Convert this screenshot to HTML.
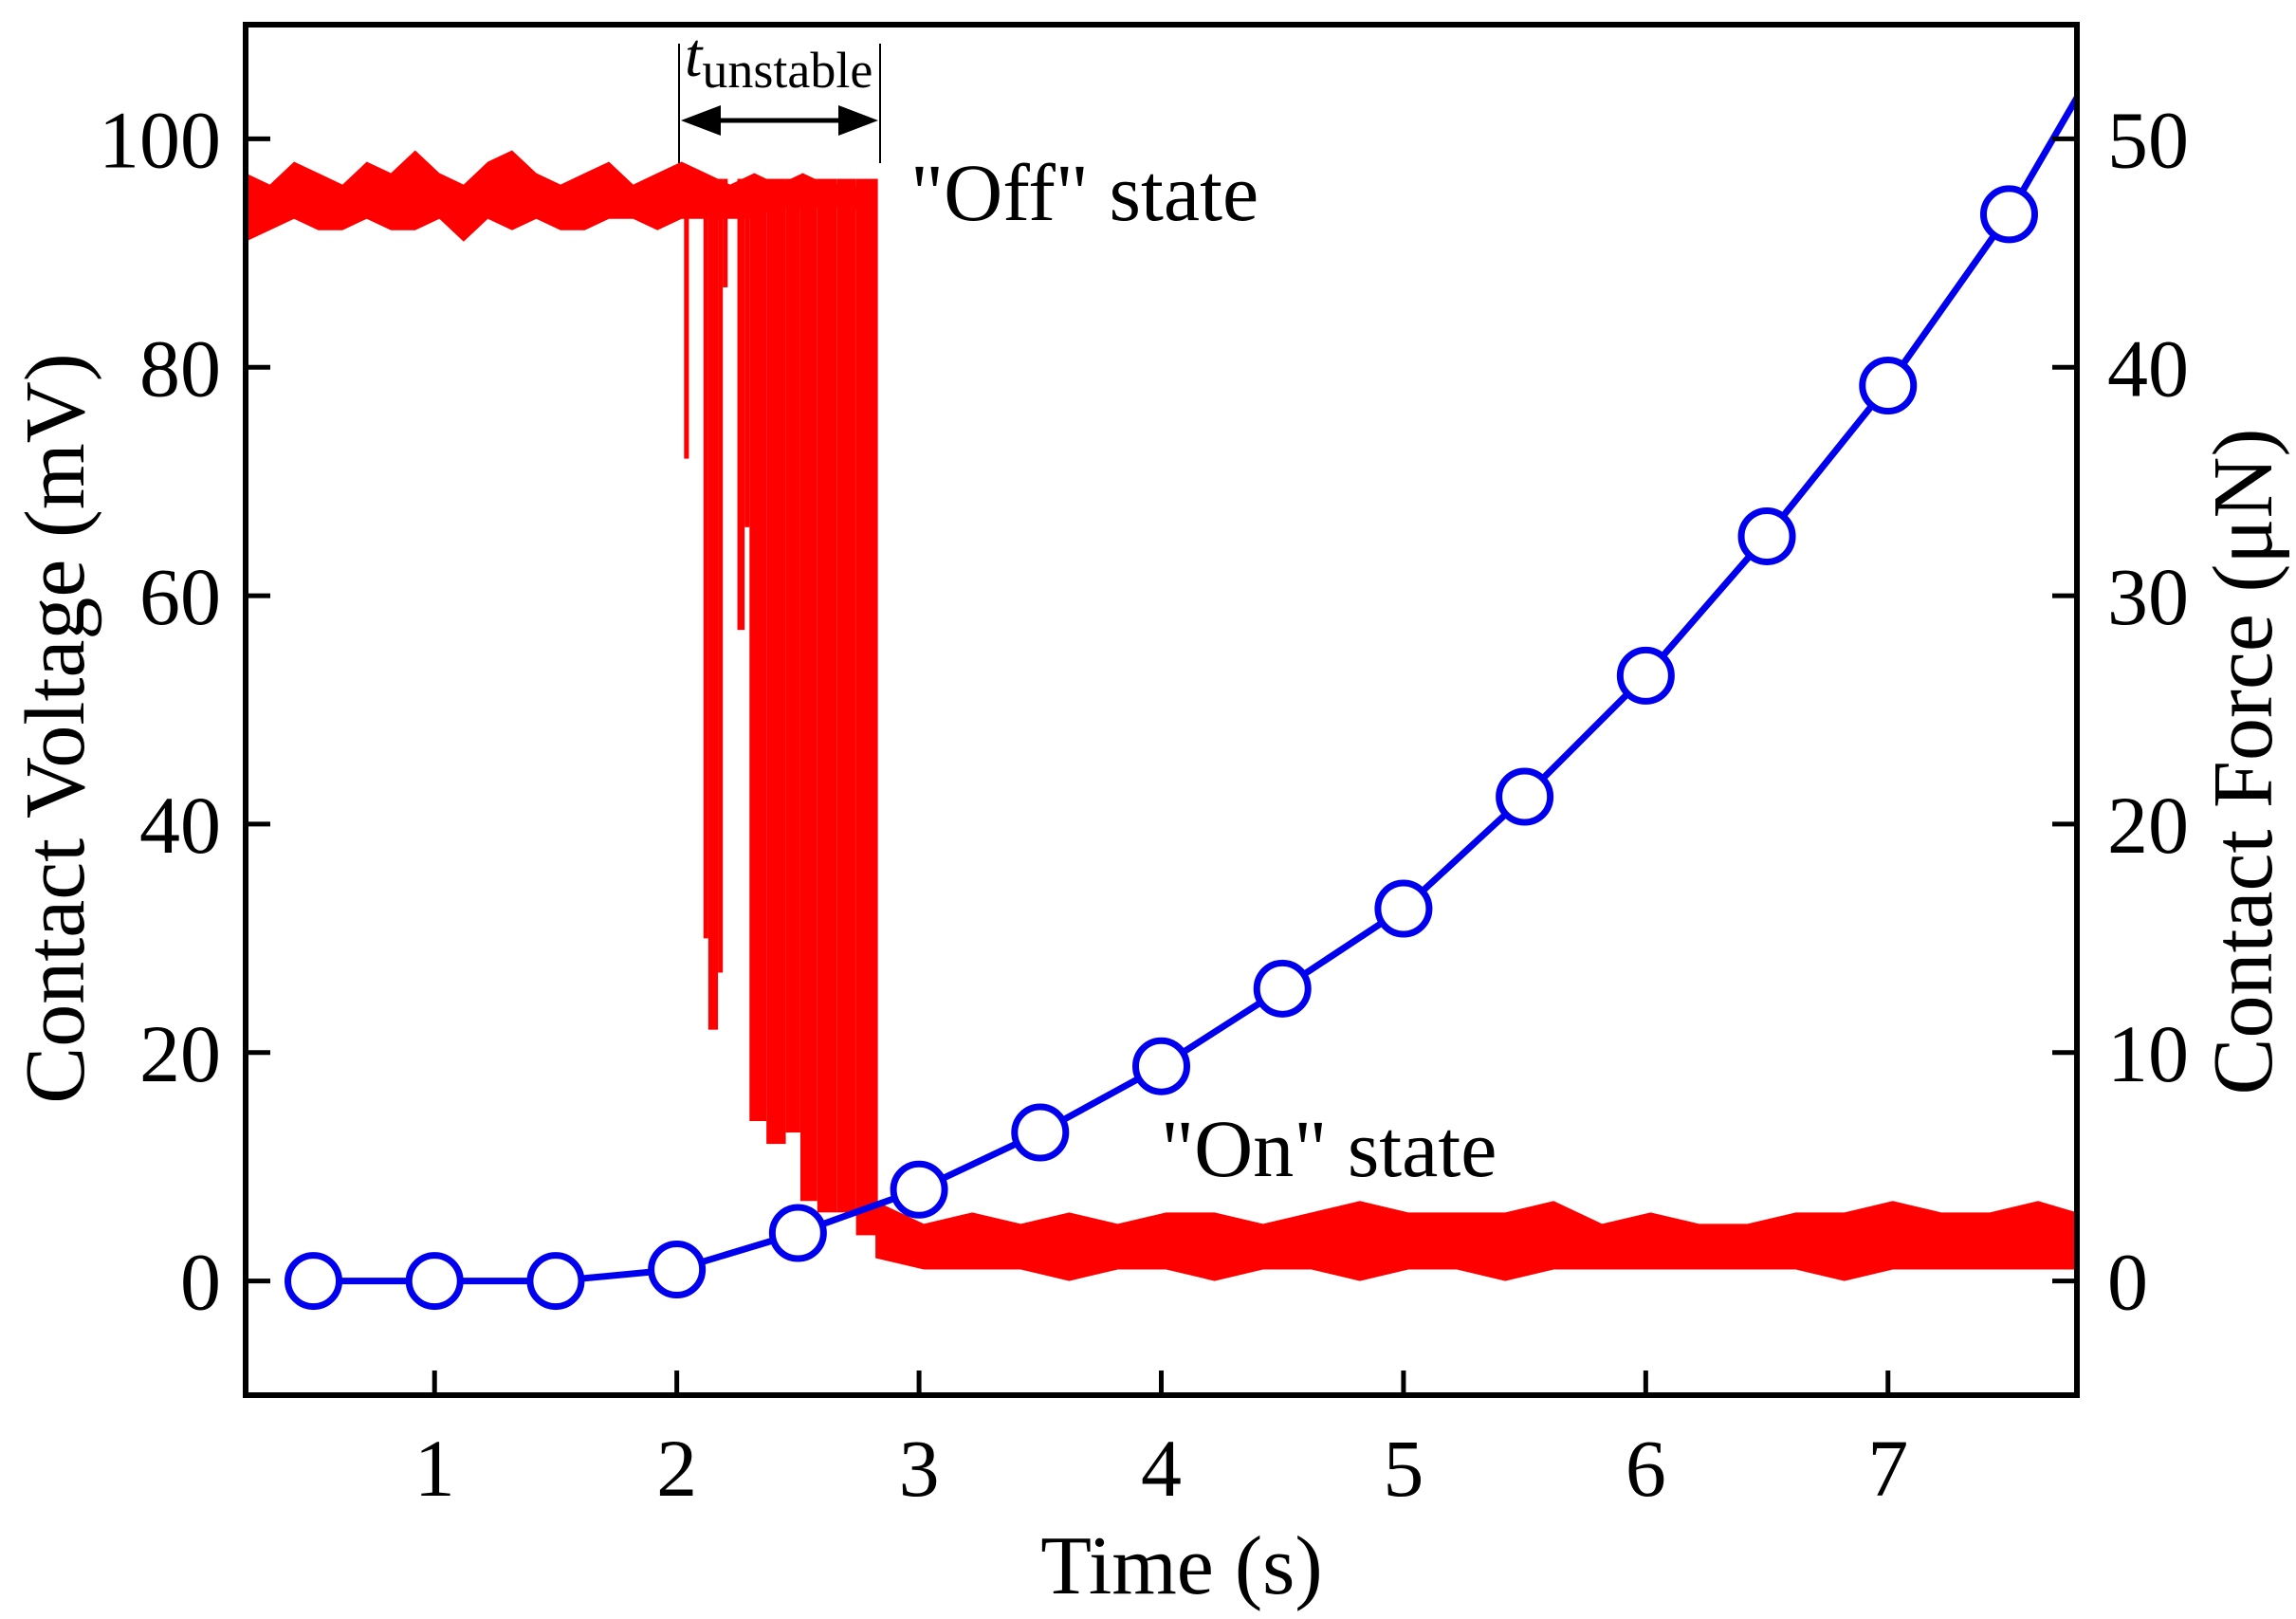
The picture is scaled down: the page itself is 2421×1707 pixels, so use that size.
<!DOCTYPE html>
<html><head><meta charset="utf-8"><style>
html,body{margin:0;padding:0;background:#fff;}
svg{display:block;font-family:"Liberation Serif",serif;}
</style></head><body>
<svg id="chart" width="2421" height="1707" viewBox="0 0 2421 1707" xmlns="http://www.w3.org/2000/svg">
<g id="plot"></g>
<g id="axes"></g>
</svg>
<script>
// ---- data ----
const xTicks = [1,2,3,4,5,6,7];
const yTicksLeft = [0,20,40,60,80,100];
const yTicksRight = [0,10,20,30,40,50];
const forceTimes = [0.5,1,1.5,2,2.5,3,3.5,4,4.5,5,5.5,6,6.5,7,7.5];
const forceValues = [0,0,0,0.5,2.1,4.0,6.5,9.4,12.8,16.3,21.2,26.5,32.6,39.2,46.7];
const forceTailTime = [7.78];
const forceTailValue = [51.8];
const offStart = [0.22];
const offStep = [0.1];
const offTop = [97,96,98,97,96,98,97,99,97,96,98,99,97,96,97,98,96,97,98,97,96,97,96,97,96,96,95];
const offBottom = [91,92,93,92,92,93,92,92,93,91,93,92,93,92,92,93,93,92,93,93,93,93,94,94,94,94,93];
const onTimes = [2.82,3.02,3.22,3.42,3.62,3.82,4.02,4.22,4.42,4.62,4.82,5.02,5.22,5.42,5.62,5.82,6.02,6.22,6.42,6.62,6.82,7.02,7.22,7.42,7.62,7.78];
const onTop = [7,5,6,5,6,5,6,6,5,6,7,6,6,6,7,5,6,5,5,6,6,7,6,6,7,6];
const onBottom = [2,1,1,1,0,1,1,0,1,1,0,1,1,0,1,1,1,1,1,1,0,1,1,1,1,1];
const dropStart = [2.03,2.11,2.13,2.17,2.19,2.25,2.28,2.30,2.37,2.45,2.51,2.58,2.66,2.74];
const dropEnd   = [2.05,2.13,2.17,2.19,2.21,2.28,2.30,2.37,2.45,2.51,2.58,2.66,2.74,2.83];
const dropMin   = [72,30,22,27,87,57,66,14,12,13,7,6,6,4];

// ---- axes ----
const L=259,R=2190,T=26,B=1471,XMIN=0.22,XMAX=7.78,YMIN=-10,YMAX=110;
const X=t=>L+(t-XMIN)/(XMAX-XMIN)*(R-L);
const Y=v=>B-(v-YMIN)/(YMAX-YMIN)*(B-T);
const YF=f=>Y(f*2);
const NS='http://www.w3.org/2000/svg';
const plot=document.getElementById('plot'), axes=document.getElementById('axes');
function mk(tag,attrs,parent){const e=document.createElementNS(NS,tag);for(const k in attrs)e.setAttribute(k,attrs[k]);parent.appendChild(e);return e;}

let pts=[];
offTop.forEach((v,i)=>pts.push(X(offStart[0]+i*offStep[0])+','+Y(v)));
for(let i=offBottom.length-1;i>=0;i--)pts.push(X(offStart[0]+i*offStep[0])+','+Y(offBottom[i]));
let e=mk('polygon',{points:pts.join(' '),fill:'#ff0000'},plot);


dropStart.forEach((s,i)=>{
  const r=mk('rect',{x:X(s),y:Y(96.5),width:X(dropEnd[i])-X(s),height:Y(dropMin[i])-Y(96.5),fill:'#ff0000'},plot);
  
  
});
pts=[];
onTop.forEach((v,i)=>pts.push(X(onTimes[i])+','+Y(v)));
for(let i=onBottom.length-1;i>=0;i--)pts.push(X(onTimes[i])+','+Y(onBottom[i]));
e=mk('polygon',{points:pts.join(' '),fill:'#ff0000'},plot);



const lp=forceTimes.map((t,i)=>X(t)+','+YF(forceValues[i]));
lp.push(X(forceTailTime[0])+','+YF(forceTailValue[0]));
e=mk('polyline',{points:lp.join(' '),fill:'none',stroke:'#0000ee','stroke-width':7},plot);


forceTimes.forEach((t,i)=>{
  const c=mk('circle',{cx:X(t),cy:YF(forceValues[i]),r:27,fill:'#fff',stroke:'#0000ee','stroke-width':7},plot);
  
  
});

e=mk('rect',{x:L,y:T,width:R-L,height:B-T,fill:'none',stroke:'#000','stroke-width':6},axes);


xTicks.forEach(t=>{
  const l=mk('line',{x1:X(t),x2:X(t),y1:B,y2:B-26,stroke:'#000','stroke-width':5},axes);
  
  
  const tx=mk('text',{x:X(t),y:1577,'font-size':86,'text-anchor':'middle'},axes);tx.textContent=t;
  
  
});
yTicksLeft.forEach(v=>{
  const l=mk('line',{x1:L,x2:L+26,y1:Y(v),y2:Y(v),stroke:'#000','stroke-width':5},axes);
  
  
  const tx=mk('text',{x:233,y:Y(v)+30,'font-size':86,'text-anchor':'end'},axes);tx.textContent=v;
  
  
});
yTicksRight.forEach(v=>{
  const l=mk('line',{x1:R,x2:R-26,y1:YF(v),y2:YF(v),stroke:'#000','stroke-width':5},axes);
  
  
  const tx=mk('text',{x:2222,y:YF(v)+30,'font-size':86,'text-anchor':'start'},axes);tx.textContent=v;
  
  
});
</script>
<script>
const s=document.getElementById('chart');
s.insertAdjacentHTML('beforeend',`
<text x="1246" y="1680" font-size="88" text-anchor="middle">Time (s)</text>
<text transform="translate(88,768) rotate(-90)" font-size="90" text-anchor="middle">Contact Voltage (mV)</text>
<text transform="translate(2395,803) rotate(-90)" font-size="90" text-anchor="middle">Contact Force (μN)</text>
<text x="960" y="232" font-size="86">"Off" state</text>
<text x="1224" y="1240" font-size="86">"On" state</text>
<text x="722" y="80" font-size="66" font-style="italic">t<tspan font-style="normal" font-size="54" dy="12">unstable</tspan></text>
<line x1="716" x2="716" y1="46" y2="172" stroke="#000" stroke-width="2"/>
<line x1="928" x2="928" y1="46" y2="172" stroke="#000" stroke-width="2"/>
<line x1="745" x2="899" y1="127" y2="127" stroke="#000" stroke-width="5"/>
<polygon points="718,127 760,111 760,143" fill="#000"/>
<polygon points="926,127 884,111 884,143" fill="#000"/>
`);
</script>
</body></html>
